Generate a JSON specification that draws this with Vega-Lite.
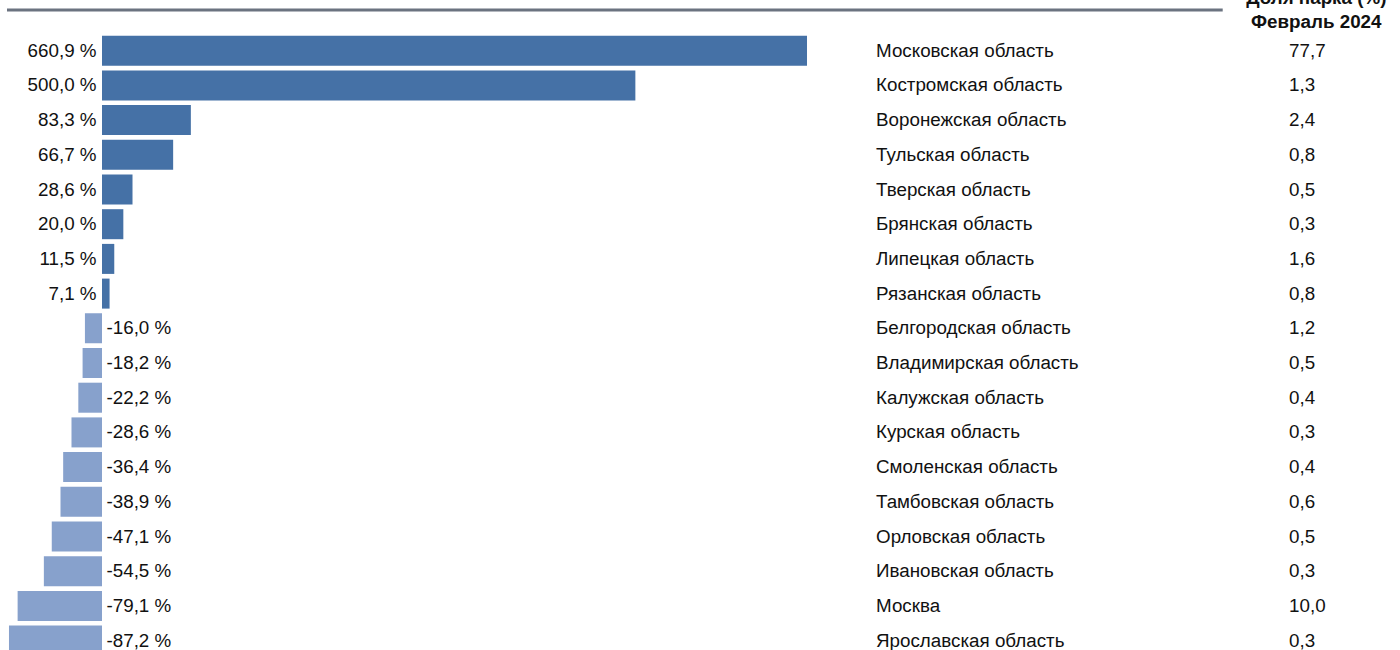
{
  "$schema": "https://vega.github.io/schema/vega-lite/v6.json",
  "width": 1400,
  "height": 650,
  "padding": 0,
  "autosize": {"type": "none"},
  "background": "white",
  "config": {
    "view": {"stroke": null},
    "text": {"font": "Liberation Sans", "fontSize": 18.8, "color": "#111111"}
  },
  "datasets": {
    "regions": [
      {"region": "Московская область", "change": 660.9, "share": 77.7},
      {"region": "Костромская область", "change": 500.0, "share": 1.3},
      {"region": "Воронежская область", "change": 83.3, "share": 2.4},
      {"region": "Тульская область", "change": 66.7, "share": 0.8},
      {"region": "Тверская область", "change": 28.6, "share": 0.5},
      {"region": "Брянская область", "change": 20.0, "share": 0.3},
      {"region": "Липецкая область", "change": 11.5, "share": 1.6},
      {"region": "Рязанская область", "change": 7.1, "share": 0.8},
      {"region": "Белгородская область", "change": -16.0, "share": 1.2},
      {"region": "Владимирская область", "change": -18.2, "share": 0.5},
      {"region": "Калужская область", "change": -22.2, "share": 0.4},
      {"region": "Курская область", "change": -28.6, "share": 0.3},
      {"region": "Смоленская область", "change": -36.4, "share": 0.4},
      {"region": "Тамбовская область", "change": -38.9, "share": 0.6},
      {"region": "Орловская область", "change": -47.1, "share": 0.5},
      {"region": "Ивановская область", "change": -54.5, "share": 0.3},
      {"region": "Москва", "change": -79.1, "share": 10.0},
      {"region": "Ярославская область", "change": -87.2, "share": 0.3}
    ]
  },
  "data": {"name": "regions"},
  "transform": [
    {"calculate": "(datum.change < 0 ? '-' : '') + replace(format(abs(datum.change), '.1f'), '.', ',') + ' %'", "as": "changeLabel"},
    {"calculate": "replace(format(datum.share, '.1f'), '.', ',')", "as": "shareLabel"}
  ],
  "encoding": {
    "y": {
      "field": "region",
      "type": "nominal",
      "axis": null,
      "scale": {
        "domain": ["hdr", "Московская область", "Костромская область", "Воронежская область", "Тульская область", "Тверская область", "Брянская область", "Липецкая область", "Рязанская область", "Белгородская область", "Владимирская область", "Калужская область", "Курская область", "Смоленская область", "Тамбовская область", "Орловская область", "Ивановская область", "Москва", "Ярославская область"],
        "range": [-1.35, 657.95],
        "paddingInner": 0,
        "paddingOuter": 0
      }
    }
  },
  "layer": [
    {
      "mark": {"type": "bar", "height": {"band": 0.865}},
      "encoding": {
        "x": {"field": "change", "type": "quantitative", "stack": null, "axis": null, "scale": {"domain": [-95.62, 1216.8], "nice": false, "zero": false}},
        "color": {"condition": {"test": "datum.change >= 0", "value": "#4571A6"}, "value": "#87A1CC"}
      }
    },
    {
      "transform": [{"filter": "datum.change >= 0"}],
      "mark": {"type": "text", "align": "right", "baseline": "middle", "dx": -5.5},
      "encoding": {"x": {"datum": 0, "type": "quantitative"}, "text": {"field": "changeLabel"}}
    },
    {
      "transform": [{"filter": "datum.change < 0"}],
      "mark": {"type": "text", "align": "left", "baseline": "middle", "dx": 4.5},
      "encoding": {"x": {"datum": 0, "type": "quantitative"}, "text": {"field": "changeLabel"}}
    },
    {
      "mark": {"type": "text", "align": "left", "baseline": "middle"},
      "encoding": {"x": {"datum": 725.6, "type": "quantitative"}, "text": {"field": "region"}}
    },
    {
      "mark": {"type": "text", "align": "left", "baseline": "middle"},
      "encoding": {"x": {"datum": 1112.8, "type": "quantitative"}, "text": {"field": "shareLabel"}}
    },
    {
      "data": {"values": [{"x1": -89.06, "x2": 1050.6}]},
      "mark": {"type": "rule", "color": "#6B7380", "strokeWidth": 3, "yOffset": 11.35},
      "encoding": {
        "x": {"field": "x1", "type": "quantitative"},
        "x2": {"field": "x2"},
        "y": {"datum": "hdr", "type": "nominal", "bandPosition": 0}
      }
    },
    {
      "data": {"values": [{"label": "Доля парка (%)", "pos": 1138.3}]},
      "mark": {"type": "text", "align": "center", "baseline": "middle", "fontWeight": "bold", "dy": -18},
      "encoding": {
        "x": {"field": "pos", "type": "quantitative"},
        "y": {"datum": "hdr", "type": "nominal"},
        "text": {"field": "label"}
      }
    },
    {
      "data": {"values": [{"label": "Февраль 2024", "pos": 1138.3}]},
      "mark": {"type": "text", "align": "center", "baseline": "middle", "fontWeight": "bold", "dy": 5.5},
      "encoding": {
        "x": {"field": "pos", "type": "quantitative"},
        "y": {"datum": "hdr", "type": "nominal"},
        "text": {"field": "label"}
      }
    }
  ]
}
